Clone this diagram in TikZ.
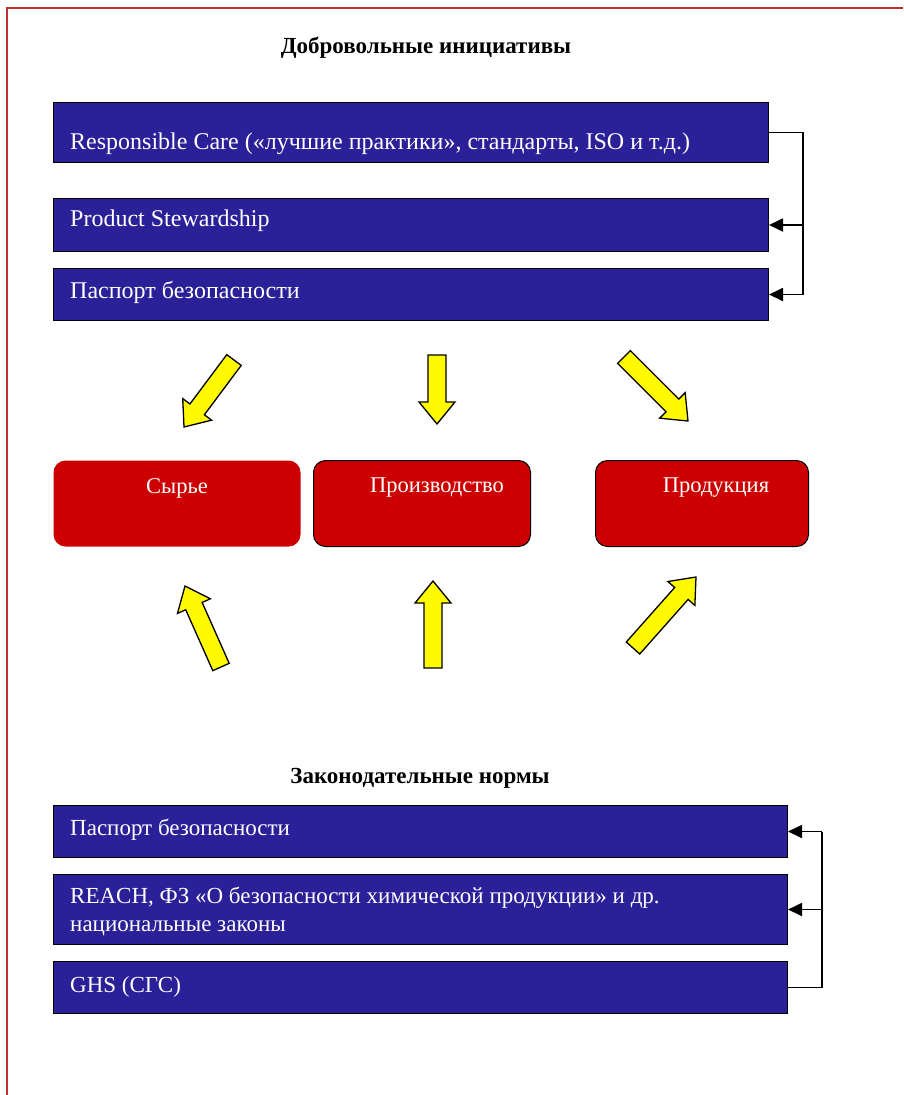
\documentclass[tikz,border=0pt]{standalone}
\usepackage{fontspec}
\setmainfont{Liberation Serif}
\usetikzlibrary{calc,arrows.meta}
\definecolor{boxblue}{RGB}{42,32,152}
\definecolor{boxred}{RGB}{204,0,0}
\definecolor{framered}{RGB}{192,48,46}
\definecolor{yelarrow}{RGB}{255,250,0}
\tikzset{
  bluebox/.style={draw=black, line width=1pt, fill=boxblue, anchor=north west, inner sep=0pt},
  redbox/.style={draw=black, line width=1pt, fill=boxred, rounded corners=12pt, anchor=north west, inner sep=0pt},
  boxtext/.style={text=white, anchor=west, inner sep=0pt, font=\fontsize{24}{28}\selectfont, align=left},
  boxtextb/.style={boxtext, font=\fontsize{23}{28}\selectfont},
  redtext/.style={text=white, inner sep=0pt, font=\fontsize{22.5}{26}\selectfont},
  titletext/.style={inner sep=0pt, font=\bfseries\fontsize{23}{27}\selectfont},
  link/.style={draw=black, line width=1.8pt},
  linkarrow/.style={link, -{Triangle[length=14pt,width=13pt]}},
  yelstyle/.style={draw=black, line width=1.3pt, fill=yelarrow, line join=miter},
}
\newcommand\yarr[3]{%
  \coordinate (#1t) at #2; \coordinate (#1h) at #3;
  \coordinate (#1n) at ($(#1h)!22pt!(#1t)$);
  \draw[yelstyle] ($(#1t)!9pt!90:(#1h)$) -- ($(#1n)!9pt!90:(#1h)$) -- ($(#1n)!18pt!90:(#1h)$) -- (#1h)
    -- ($(#1n)!18pt!-90:(#1h)$) -- ($(#1n)!9pt!-90:(#1h)$) -- ($(#1t)!9pt!-90:(#1h)$) -- cycle;
}
\begin{document}
\begin{tikzpicture}[x=1pt,y=-1pt]
\useasboundingbox (0,0) rectangle (903,1095);
\fill[white] (0,0) rectangle (903,1095);
% frame
\draw[framered, line width=2pt] (7,1095) -- (7,8) -- (903,8);

% titles
\node[titletext] (t1) at (426,48) {Добровольные инициативы};
\node[titletext] (t2) at (420,778) {Законодательные нормы};

% top blue boxes
\node[bluebox, minimum width=715pt, minimum height=60pt] (b1) at (53,102) {};
\node[bluebox, minimum width=715pt, minimum height=53pt] (b2) at (53,198) {};
\node[bluebox, minimum width=715pt, minimum height=52pt] (b3) at (53,268) {};
\node[boxtext] (b1t) at (70,144) {Responsible Care («лучшие практики», стандарты, ISO и т.д.)};
\node[boxtext] (b2t) at (70,221) {Product Stewardship};
\node[boxtext] (b3t) at (70,292) {Паспорт безопасности};

\coordinate (c1) at (803,0);
\draw[link] (b1.east) -- (b1.east -| c1) -- (b3.east -| c1);
\draw[linkarrow] (b2.east -| c1) -- (b2.east);
\draw[linkarrow] (b3.east -| c1) -- (b3.east);

% red boxes
\node[redbox, draw=none, minimum width=247pt, minimum height=86pt] (r1) at (53,460) {};
\node[redbox, minimum width=217pt, minimum height=86pt] (r2) at (313,460) {};
\node[redbox, minimum width=213pt, minimum height=86pt] (r3) at (595,460) {};
\node[redtext] (r1t) at (177,488) {Сырье};
\node[redtext] (r2t) at (437,488) {Производство};
\node[redtext] (r3t) at (716,488) {Продукция};

% yellow arrows
\yarr{ya}{(234,360)}{(184,427)}
\yarr{yb}{(437,355)}{(437,424)}
\yarr{yc}{(624,357)}{(688,421)}
\yarr{yd}{(221,667)}{(185,586)}
\yarr{ye}{(433,668)}{(433,581)}
\yarr{yf}{(633,648)}{(696,577)}

% bottom blue boxes
\node[bluebox, minimum width=734pt, minimum height=52pt] (d1) at (53,805) {};
\node[bluebox, minimum width=734pt, minimum height=70pt] (d2) at (53,874) {};
\node[bluebox, minimum width=734pt, minimum height=52pt] (d3) at (53,961) {};
\node[boxtextb] (d1t) at (70,830) {Паспорт безопасности};
\node[boxtextb] (d2t) at (70,911) {REACH, ФЗ «О безопасности химической продукции» и др.\\национальные законы};
\node[boxtextb] (d3t) at (70,987) {GHS (СГС)};

\coordinate (c2) at (822,0);
\draw[link] (d3.east) -- (d3.east -| c2) -- (d1.east -| c2);
\draw[linkarrow] (d1.east -| c2) -- (d1.east);
\draw[linkarrow] (d2.east -| c2) -- (d2.east);
\end{tikzpicture}
\end{document}
